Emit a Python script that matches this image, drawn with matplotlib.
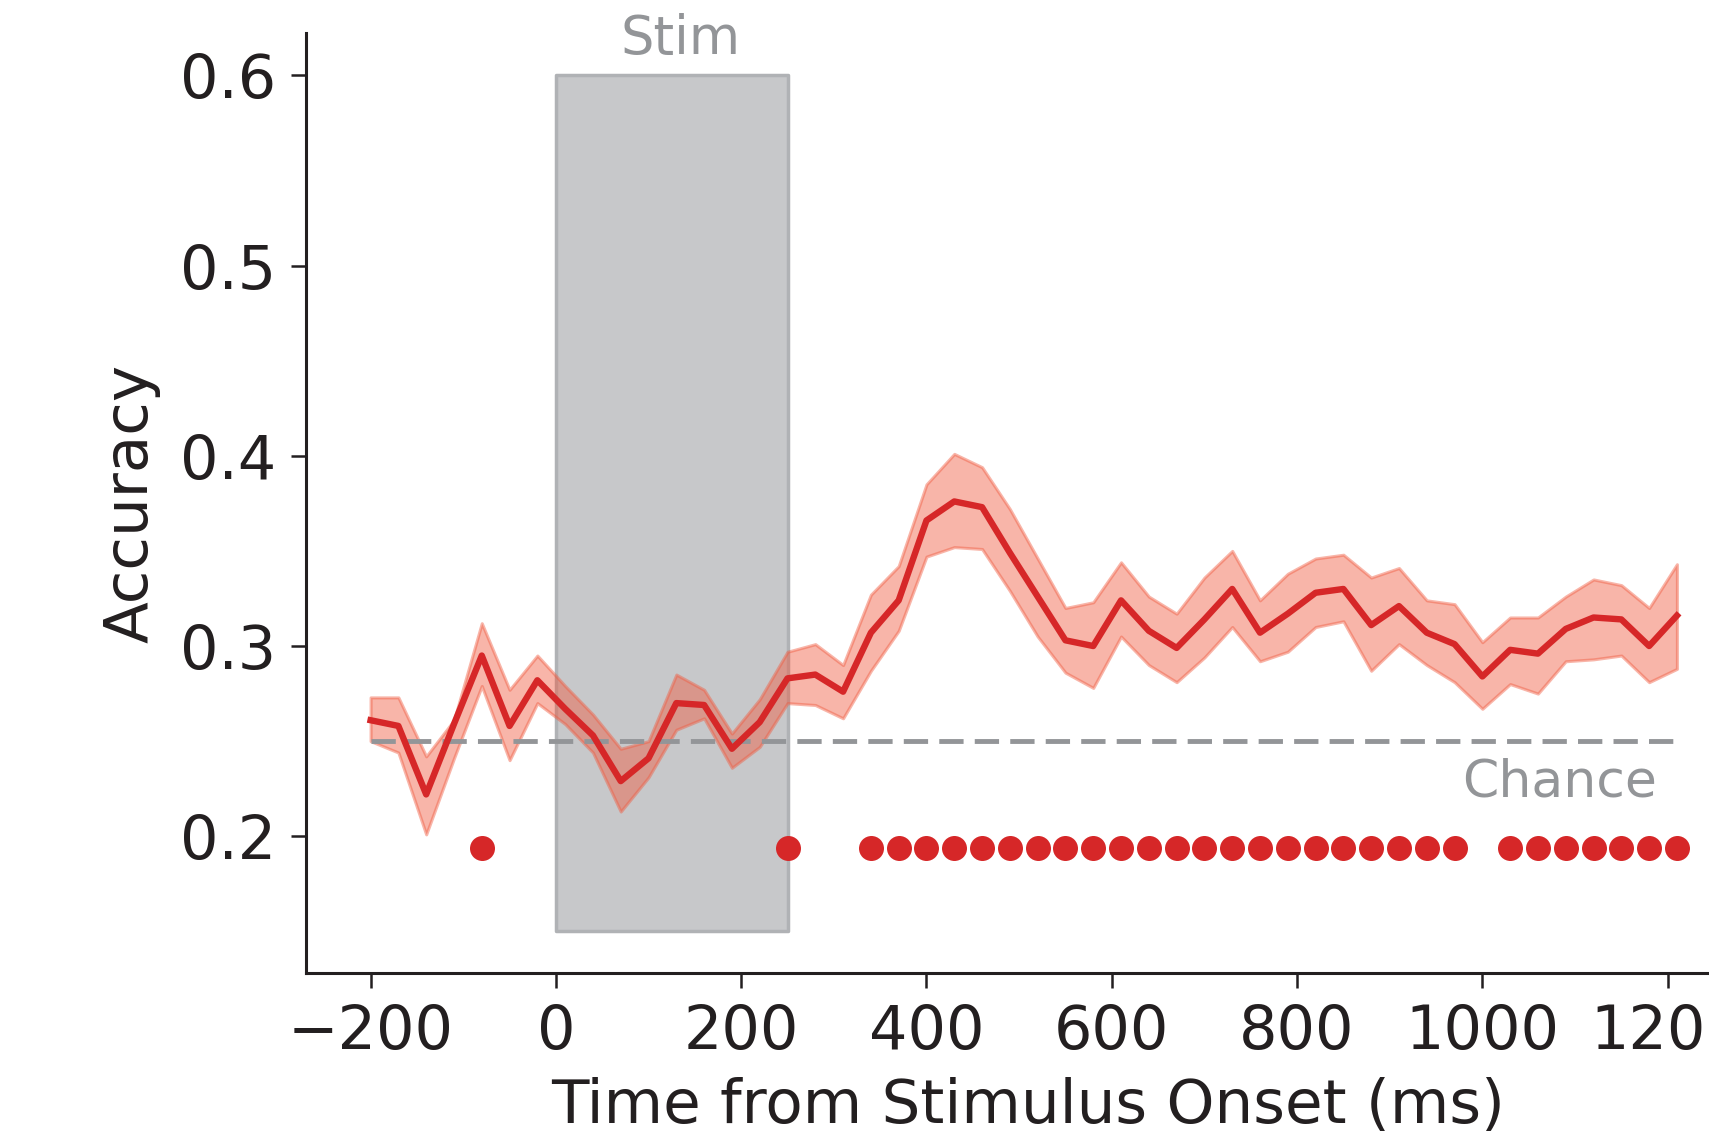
import numpy as np
import matplotlib.pyplot as plt

# time points (ms) and decoding accuracy
times = [-200, -170, -140, -110, -80, -50, -20, 10, 40, 70, 100, 130, 160, 190, 220, 250,
         280, 310, 340, 370, 400, 430, 460, 490, 520, 550, 580, 610, 640, 670, 700, 730,
         760, 790, 820, 850, 880, 910, 940, 970, 1000, 1030, 1060, 1090, 1120, 1150, 1180, 1210]
acc_mean = [0.261, 0.258, 0.222, 0.259, 0.295, 0.258, 0.282, 0.267, 0.253, 0.229, 0.241, 0.270,
            0.269, 0.246, 0.260, 0.283, 0.285, 0.276, 0.307, 0.324, 0.366, 0.376, 0.373, 0.349,
            0.326, 0.303, 0.300, 0.324, 0.308, 0.299, 0.314, 0.330, 0.307, 0.317, 0.328, 0.330,
            0.311, 0.321, 0.307, 0.301, 0.284, 0.298, 0.296, 0.309, 0.315, 0.314, 0.300, 0.316]
acc_upper = [0.273, 0.273, 0.242, 0.261, 0.312, 0.277, 0.295, 0.279, 0.264, 0.246, 0.250, 0.285,
             0.277, 0.254, 0.272, 0.297, 0.301, 0.290, 0.327, 0.342, 0.385, 0.401, 0.394, 0.372,
             0.346, 0.320, 0.323, 0.344, 0.326, 0.317, 0.336, 0.350, 0.324, 0.338, 0.346, 0.348,
             0.336, 0.341, 0.324, 0.322, 0.302, 0.315, 0.315, 0.326, 0.335, 0.332, 0.320, 0.343]
acc_lower = [0.250, 0.244, 0.201, 0.241, 0.279, 0.240, 0.270, 0.259, 0.244, 0.213, 0.231, 0.256,
             0.262, 0.236, 0.247, 0.270, 0.269, 0.262, 0.287, 0.308, 0.347, 0.352, 0.351, 0.329,
             0.305, 0.286, 0.278, 0.305, 0.290, 0.281, 0.294, 0.310, 0.292, 0.297, 0.310, 0.313,
             0.287, 0.301, 0.290, 0.281, 0.267, 0.280, 0.275, 0.292, 0.293, 0.295, 0.281, 0.288]
sig_times = [-80, 250, 340, 370, 400, 430, 460, 490, 520, 550, 580, 610, 640, 670, 700, 730,
             760, 790, 820, 850, 880, 910, 940, 970, 1030, 1060, 1090, 1120, 1150, 1180, 1210]
sig_level = 0.194
chance = 0.25
stim_on, stim_off = 0, 250

red = '#d62728'
band = '#f05b40'
grey = '#939598'
ink = '#231f20'

plt.rcParams['font.family'] = 'DejaVu Sans'
fig = plt.figure(figsize=(17.09, 11.45), dpi=100)
# axes run a little past the right edge of the figure (reference is cropped there)
ax = fig.add_axes([0.1789, 0.150, 0.8457, 0.8208])

ax.fill_between([stim_on, stim_off], 0.15, 0.6, facecolor='#c7c8ca', edgecolor='#b0b2b5',
                linewidth=2.5, zorder=1)
ax.text(135, 0.611, 'Stim', color=grey, fontsize=38, ha='center', va='baseline')

ax.fill_between(times, acc_lower, acc_upper, color=band, alpha=0.45, linewidth=2.2, zorder=2)
ax.plot([times[0], times[-1]], [chance, chance], color=grey, lw=3.5,
        dashes=(5.0, 2.3), zorder=3)
ax.text(1188, 0.2207, 'Chance', color=grey, fontsize=37.5, ha='right', va='baseline')
ax.plot(times, acc_mean, color=red, lw=4.6, zorder=4)
ax.plot(sig_times, [sig_level] * len(sig_times), 'o', color=red, ms=18, mec='none', zorder=4)

ax.set_xlim(-270, 1290)
ax.set_ylim(0.128, 0.622)
ax.set_xticks([-200, 0, 200, 400, 600, 800, 1000, 1200])
ax.set_yticks([0.2, 0.3, 0.4, 0.5, 0.6])
ax.spines['top'].set_visible(False)
ax.spines['right'].set_visible(False)
for s in ['left', 'bottom']:
    ax.spines[s].set_linewidth(2.2)
    ax.spines[s].set_color(ink)
ax.tick_params(length=10.5, width=1.8, color=ink, labelsize=43.5, labelcolor=ink, pad=11)
ax.set_xlabel('Time from Stimulus Onset (ms)', fontsize=44, color=ink, labelpad=11)
ax.set_ylabel('Accuracy', fontsize=44, color=ink, labelpad=14)

fig.savefig('out.png', dpi=100)
